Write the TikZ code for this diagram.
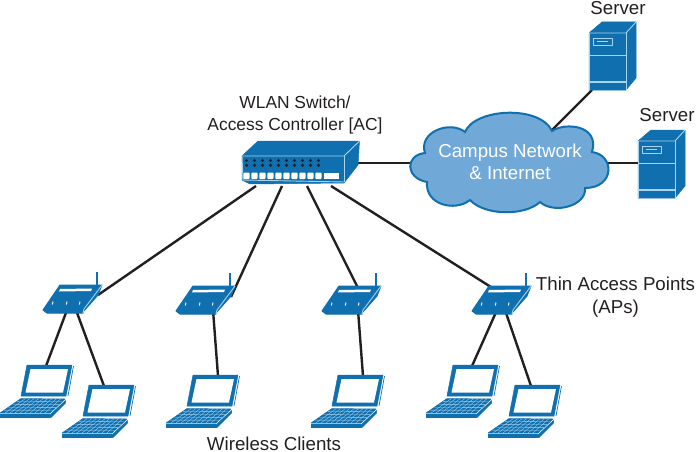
\documentclass[tikz,border=0pt]{standalone}
\usepackage{fontspec}
\setmainfont{Liberation Sans}
\definecolor{devblue}{HTML}{0F6FAF}
\definecolor{edgeblue}{HTML}{A9D3EE}
\definecolor{cloudfill}{HTML}{70A9D7}
\definecolor{linkcol}{HTML}{231F20}
\usetikzlibrary{calc}
\tikzset{
  x=1pt,y=-1pt,
  link/.style={line width=2.4pt,draw=linkcol},
  lbl/.style={font=\fontsize{18.7}{21}\selectfont,text=linkcol,inner sep=0pt,align=center},
  lblsw/.style={font=\fontsize{17.4}{20}\selectfont,text=linkcol,inner sep=0pt,align=center},
  bodyfill/.style={fill=devblue,draw=devblue,line width=.5pt,line join=round},
  edge/.style={draw=edgeblue,line width=.9pt,line join=round},
  apdev/.pic={
    \draw[devblue,line width=2.4pt] (54,272)--(54,286);
    \path[bodyfill,line width=1pt] (17,285) -- (59,285) -- (55,295) -- (40,312) -- (40,313) -- (4,313) -- (0,310) -- cycle;
    \draw[edge] (59,285) -- (41,309) -- (40,313);
    \fill[white] (17,289) -- (49,288.5) -- (48,291) -- (16,291.5) -- cycle;
    \foreach \x in {10,24,37} \draw[white,line width=.9pt] (\x,301.5) -- (\x-.6,304.5);
  },
  laptop/.pic={
    \path[bodyfill] (27,365) -- (72,365) -- (66,396) -- (21,396) -- cycle;
    \fill[white] (30.5,369) -- (68,369) -- (63,392.5) -- (25.5,392.5) -- cycle;
    \draw[devblue,line width=.7pt] (73.5,366) -- (68,396);
    \path[bodyfill] (21,398.5) -- (65,399) -- (50,413) -- (0,413) -- cycle;
    \foreach \t in {.2,.4,.6,.8} \draw[edgeblue,line width=.35pt] ($(21,398.5)!\t!(0,413)$) -- ($(65,399)!\t!(50,413)$);
    \foreach \t in {.1,.2,...,.95} \draw[edgeblue,line width=.35pt] ($(21,398.5)!\t!(65,399)$) -- ($(0,413)!\t!(50,413)$);
    \path[bodyfill] (0,414) -- (50,414) -- (50,417.5) -- (0,417.5) -- cycle;
    \path[bodyfill] (51,414) -- (65.5,400.5) -- (65.5,403) -- (51,417.5) -- cycle;
  },
  serverdev/.pic={
    \path[bodyfill] (589,33) -- (602,22) -- (636,22) -- (636,78) -- (626,90) -- (589,90) -- cycle;
    \draw[edge] (589,33) -- (626,33) -- (636,22);
    \draw[edge] (626,33) -- (626,90);
    \draw[edge] (589,33) -- (589,90);
    \draw[edge] (589,55) -- (626,55);
    \draw[edgeblue,line width=1.6pt] (589,82) -- (626,82);
    \draw[edge] (593.5,38) rectangle (612,45);
    \draw[edgeblue,line width=.8pt] (597,41.5) -- (608,41.5);
  }
}
\begin{document}
\begin{tikzpicture}
\useasboundingbox (0,0) rectangle (696,452);
% connector ends
\coordinate (s1) at (256,186); \coordinate (s2) at (282,186);
\coordinate (s3) at (307,186); \coordinate (s4) at (331,186);
\coordinate (sR) at (358,163);
\coordinate (a1) at (98,295); \coordinate (a2) at (231,297);
\coordinate (a3) at (360,292); \coordinate (a4) at (502,294);
\coordinate (a1l) at (67,310); \coordinate (a1r) at (76,310);
\coordinate (a2b) at (213,310); \coordinate (a3b) at (358,310);
\coordinate (a4l) at (497,310); \coordinate (a4r) at (505,310);
\coordinate (l1) at (46,366); \coordinate (l2) at (104,386);
\coordinate (l3) at (218,376); \coordinate (l4) at (363,376);
\coordinate (l5) at (472,366); \coordinate (l6) at (531,386);
\coordinate (cL) at (415,163); \coordinate (cR) at (605,163);
\coordinate (cT) at (551,131); \coordinate (sv1) at (592,90); \coordinate (sv2) at (639,163);
% connectors
\foreach \a/\b in {s1/a1,s2/a2,s3/a3,s4/a4,a1l/l1,a1r/l2,a2b/l3,a3b/l4,a4l/l5,a4r/l6,sR/cL,cR/sv2,cT/sv1}
  \draw[link] (\a) -- (\b);
% switch
\path[bodyfill] (242,156) -- (258,141) -- (359.5,141) -- (358,165) -- (344,183) -- (250,184) -- (242,180) -- cycle;
\draw[edge] (242,156) -- (344,156) -- (359.5,141);
\draw[edge] (344,156) -- (344,182);
\draw[edge] (242,156) -- (243,180) -- (344,182);
\foreach \x in {246.5,254.5,262.5,270.5,278.5,286.5,294.5,302.5,310.5,318.5} {
  \fill[linkcol] (\x,160.5) circle (1.7);
  \fill[linkcol] (\x,165.3) circle (1.7);
}
\foreach \x in {243.3,251.3,259.3,267.3,275.3,283.3,291.3,299.3,307.3,315.3}
  \fill[white,rounded corners=.8pt] (\x,172.7) rectangle ++(6.2,6.3);
\fill[white] (324,172.7) rectangle (339,179);
% cloud
\draw[fill=cloudfill,draw=devblue,line width=2pt]
  (425,153) .. controls (418,132) and (450,120) .. (465,132)
  .. controls (475,108) and (540,105) .. (552,131)
  .. controls (565,122) and (600,125) .. (592,152)
  .. controls (615,155) and (615,188) .. (585,188)
  .. controls (587,205) and (555,215) .. (540,202)
  .. controls (525,216) and (485,216) .. (470,200)
  .. controls (455,212) and (425,205) .. (427,182)
  .. controls (405,178) and (405,155) .. (425,153) -- cycle;
% devices
\pic at (43,0) {apdev};
\pic at (176,1) {apdev};
\pic at (322,1) {apdev};
\pic at (472,1) {apdev};
\pic at (0,0) {laptop};
\pic at (62,20) {laptop};
\pic at (166,10) {laptop};
\pic at (311,10) {laptop};
\pic at (426,0) {laptop};
\pic at (488,20) {laptop};
\pic at (0,0) {serverdev};
\pic at (49,108) {serverdev};
% labels
\node[lblsw] (tsw) at (295,115) {WLAN Switch/\\[2pt]Access Controller [AC]};
\node[lbl,text=white] (tcl) at (510,162) {Campus Network\\[1.5pt]\& Internet};
\node[lbl] (ts1) at (618,8) {Server};
\node[lbl] (ts2) at (667,115) {Server};
\node[lbl] (tap) at (615.5,297) {Thin Access Points\\[1.5pt](APs)};
\node[lbl] (twc) at (274,444) {Wireless Clients};
\end{tikzpicture}
\end{document}
